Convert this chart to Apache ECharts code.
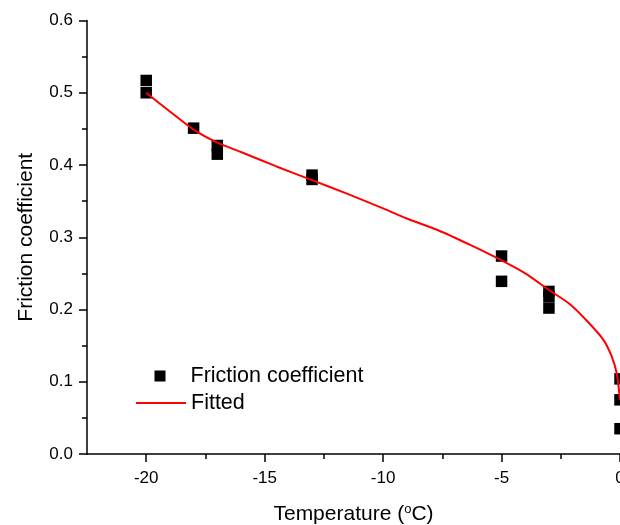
<!DOCTYPE html>
<html>
<head>
<meta charset="utf-8">
<script src="https://cdn.jsdelivr.net/npm/echarts@6/dist/echarts.min.js"></script>
<style>
  html, body { margin: 0; padding: 0; background: #fff; }
  #chart { width: 620px; height: 525px; }
</style>
</head>
<body>
<div id="chart"></div>
<script>
// Measured friction coefficients
const tempC = [-20, -20, -18, -17, -17, -13, -13, -5, -5, -3, -3, -3, 0, 0, 0];
const friction = [0.517, 0.500, 0.451, 0.427, 0.415, 0.386, 0.380, 0.274, 0.239, 0.225, 0.218, 0.202, 0.104, 0.075, 0.035];

// Fitted curve samples
const fitT = [-20, -19, -18, -17, -16, -14.5, -13, -11.5, -10, -9, -7.7, -6.3, -5, -4, -3, -2.1, -1.3, -0.7, -0.35, -0.14, -0.05, 0];
const fitMu = [0.500, 0.474, 0.449, 0.431, 0.418, 0.398, 0.379, 0.360, 0.340, 0.326, 0.310, 0.289, 0.268, 0.250, 0.227, 0.207, 0.181, 0.158, 0.135, 0.112, 0.090, 0.075];

// Axis ticks
const xMajorTicks = [-20, -15, -10, -5, 0];
const xMinorTicks = [-17.5, -12.5, -7.5, -2.5];

const FONT = 'Arial, "Liberation Sans", sans-serif';

const chart = echarts.init(document.getElementById('chart'), null, { renderer: 'canvas' });

chart.setOption({
  animation: false,
  backgroundColor: '#ffffff',
  textStyle: { fontFamily: FONT, color: '#000' },
  grid: { left: 87, right: 0, top: 20.5, bottom: 71, containLabel: false, outerBoundsMode: 'none' },
  legend: [
    {
      data: ['Friction coefficient'],
      left: 149.5, top: 360,
      itemWidth: 11, itemHeight: 11,
      icon: 'rect',
      itemStyle: { opacity: 1, color: '#000' },
      textStyle: { fontFamily: FONT, fontSize: 21.5, color: '#000', padding: [0, 0, 0, 20] }
    },
    {
      data: ['Fitted'],
      left: 130, top: 387,
      itemWidth: 50, itemHeight: 11,
      itemStyle: { opacity: 0 },
      lineStyle: { color: '#ff0000', width: 2 },
      textStyle: { fontFamily: FONT, fontSize: 21.5, color: '#000' }
    }
  ],
  xAxis: [
    {
      type: 'value',
      min: -22.5, max: 0,
      name: 'Temperature ({sup|o}C)',
      nameLocation: 'middle',
      nameGap: 49,
      nameTextStyle: {
        fontFamily: FONT, fontSize: 21, color: '#000',
        rich: { sup: { fontFamily: FONT, fontSize: 13, color: '#000', verticalAlign: 'top', padding: [0, 0, 9, 0] } }
      },
      axisLine: { show: true, onZero: false, lineStyle: { color: '#000', width: 1.5 } },
      axisTick: { show: true, inside: false, length: 8, customValues: xMajorTicks, lineStyle: { color: '#000', width: 1.5 } },
      axisLabel: { show: true, margin: 16, fontFamily: FONT, fontSize: 17, color: '#000', customValues: xMajorTicks,
        formatter: v => String(v) },
      splitLine: { show: false }
    },
    {
      type: 'value',
      min: -22.5, max: 0,
      position: 'bottom',
      axisLine: { show: false },
      axisTick: { show: true, inside: false, length: 5, customValues: xMinorTicks, lineStyle: { color: '#000', width: 1.5 } },
      axisLabel: { show: false },
      splitLine: { show: false }
    }
  ],
  yAxis: {
    type: 'value',
    min: 0, max: 0.6, interval: 0.1,
    name: 'Friction coefficient',
    nameLocation: 'middle',
    nameGap: 50,
    nameTextStyle: { fontFamily: FONT, fontSize: 21, color: '#000' },
    axisLine: { show: true, onZero: false, lineStyle: { color: '#000', width: 1.5 } },
    axisTick: { show: true, inside: false, length: 8, lineStyle: { color: '#000', width: 1.5 } },
    minorTick: { show: true, splitNumber: 2, length: 5, lineStyle: { color: '#000', width: 1.5 } },
    axisLabel: { margin: 14, fontFamily: FONT, fontSize: 17, color: '#000', formatter: v => v.toFixed(1) },
    splitLine: { show: false },
    minorSplitLine: { show: false }
  },
  series: [
    {
      name: 'Friction coefficient',
      type: 'scatter',
      xAxisIndex: 0,
      symbol: 'rect',
      symbolSize: 11.5,
      clip: false,
      itemStyle: { color: '#000', opacity: 1 },
      data: tempC.map((t, i) => [t, friction[i]]),
      z: 3
    },
    {
      name: 'Fitted',
      type: 'line',
      xAxisIndex: 0,
      symbol: 'none',
      smooth: 0.25,
      clip: false,
      lineStyle: { color: '#ff0000', width: 2 },
      itemStyle: { color: '#ff0000' },
      data: fitT.map((t, i) => [t, fitMu[i]]),
      z: 4
    }
  ]
});
</script>
</body>
</html>
